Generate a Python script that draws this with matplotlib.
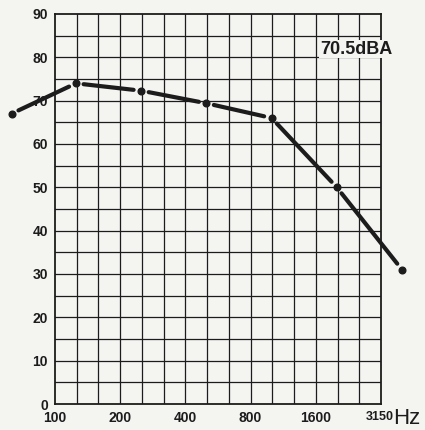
import numpy as np
import matplotlib
matplotlib.use("Agg")
import matplotlib.pyplot as plt

# Octave-band levels (dB) of the measured spectrum
freqs = [63, 125, 250, 500, 1000, 2000, 4000]
levels = [67, 74, 72.3, 69.4, 66, 50, 31]

x_tick_freqs = [100, 200, 400, 800, 1600, 3150]
x_tick_labels = ["100", "200", "400", "800", "1600", "3150"]
y_ticks = [0, 10, 20, 30, 40, 50, 60, 70, 80, 90]
overall_label = "70.5dBA"

BG = "#f4f4f1"
INK = "#1c1c1c"
FONT = ["Liberation Sans Narrow", "Liberation Sans", "DejaVu Sans"]

fig = plt.figure(figsize=(4.25, 4.30), dpi=100, facecolor=BG)
ax = fig.add_axes([55 / 425, 1 - 404 / 430, 326 / 425, 390 / 430], facecolor=BG)

ax.set_xscale("log", base=2)
ax.set_xlim(100, 3200)
ax.set_ylim(0, 90)

# third-octave vertical grid, 5 dB horizontal grid
for k in range(1, 15):
    ax.axvline(100 * 2 ** (k / 3), color=INK, lw=0.9, zorder=1)
for v in range(5, 90, 5):
    ax.axhline(v, color=INK, lw=0.9, zorder=1)
for s in ax.spines.values():
    s.set_color(INK)
    s.set_linewidth(1.3)

ax.set_xticks(x_tick_freqs)
ax.set_xticklabels(x_tick_labels)
ax.xaxis.set_minor_locator(matplotlib.ticker.NullLocator())
ax.set_yticks(y_ticks)
ax.set_yticklabels([str(v) for v in y_ticks])
ax.tick_params(axis="both", length=0, labelsize=10, colors=INK)
ax.tick_params(axis="y", pad=5)
ax.tick_params(axis="x", pad=5)
for lab in ax.get_xticklabels() + ax.get_yticklabels():
    lab.set_family(FONT)
    lab.set_fontweight("bold")
ax.get_xticklabels()[-1].set_fontsize(9)

# spectrum: solid segments that stop short of each measured point
for (f0, l0), (f1, l1) in zip(zip(freqs[:-1], levels[:-1]), zip(freqs[1:], levels[1:])):
    ax.annotate("", xy=(f1, l1), xytext=(f0, l0), annotation_clip=False,
                arrowprops=dict(arrowstyle="-", lw=3.0, color=INK,
                                shrinkA=5.5, shrinkB=5.5),
                zorder=5)
ax.plot(freqs, levels, linestyle="none", marker="o", markersize=4.8,
        color=INK, clip_on=False, zorder=6)

ax.text(1.034, 0.91, overall_label, transform=ax.transAxes, ha="right",
        va="center", fontsize=13, fontweight="bold", family=FONT, color=INK,
        zorder=4, bbox=dict(facecolor=BG, edgecolor="none", pad=0.3))

fig.text(393 / 425, 1 - 419 / 430, "Hz", ha="left", va="center",
         fontsize=16, family=FONT, color=INK)

fig.savefig("out.png", dpi=100, facecolor=BG)
